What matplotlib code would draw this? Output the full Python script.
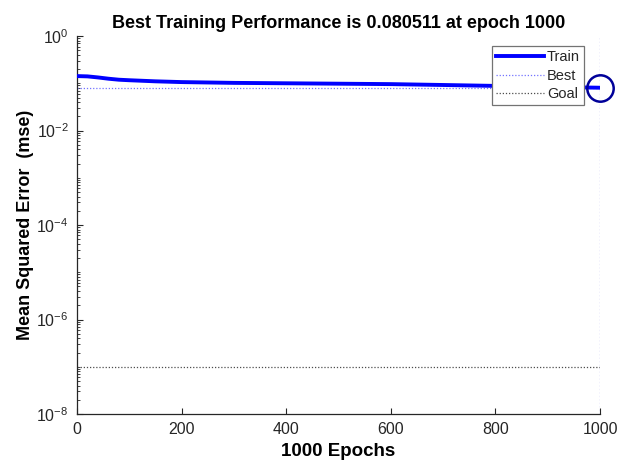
import matplotlib.pyplot as plt
import numpy as np
from matplotlib.ticker import LogLocator, FixedLocator, NullFormatter

plt.rcParams["font.family"] = ["Liberation Sans", "DejaVu Sans"]

# training record
epochs = [0, 20, 40, 60, 80, 100, 150, 200, 300, 400, 500, 600, 700, 800, 900, 1000]
train_mse = [0.142, 0.140, 0.133, 0.125, 0.119, 0.116, 0.110, 0.106, 0.102, 0.100,
             0.098, 0.096, 0.092, 0.088, 0.084, 0.080511]
best_epoch = 1000
best_perf = 0.080511
goal = 1e-7

ink = "#262626"

fig = plt.figure(figsize=(6.29, 4.62), dpi=100)
ax = fig.add_axes([0.1224, 0.1039, 0.8316, 0.8181])

ax.plot(epochs, train_mse, color=(0, 0, 1), lw=2.8, label="Train", zorder=3)
ax.axhline(best_perf, color=(0.45, 0.45, 1.0), lw=0.9, ls=(0, (1, 1.5)), label="Best")
ax.axvline(best_epoch, color=(0.72, 0.72, 0.95), lw=1.0, ls=(0, (1, 1.5)))
ax.axhline(goal, color="0.3", lw=0.9, ls=(0, (1, 1.5)), label="Goal")
ax.plot([best_epoch], [best_perf], "o", ms=19, mfc="none", mec=(0, 0, 0.6), mew=1.8,
        clip_on=False, zorder=4)

ax.set_yscale("log")
ax.set_xlim(0, 1000)
ax.set_ylim(1e-8, 1e0)
ax.set_xticks(np.arange(0, 1001, 200))
ax.yaxis.set_major_locator(FixedLocator([1e-8, 1e-6, 1e-4, 1e-2, 1e0]))
ax.yaxis.set_minor_locator(LogLocator(base=10, subs=np.arange(1, 10), numticks=20))
ax.yaxis.set_minor_formatter(NullFormatter())

for side in ("top", "right"):
    ax.spines[side].set_visible(False)
for side in ("left", "bottom"):
    ax.spines[side].set_color(ink)
    ax.spines[side].set_linewidth(0.9)

ax.tick_params(axis="both", which="major", direction="in", length=4, width=0.8,
               color=ink, labelcolor=ink, labelsize=11.5, pad=6)
ax.tick_params(axis="y", which="minor", direction="in", length=2.2, width=0.6, color=ink)

ax.set_title("Best Training Performance is 0.080511 at epoch 1000",
             fontsize=13, fontweight="bold", pad=6)
ax.set_xlabel("1000 Epochs", fontsize=13.5, fontweight="bold", labelpad=4)
ax.set_ylabel("Mean Squared Error  (mse)", fontsize=13, fontweight="bold", labelpad=2)

leg = ax.legend(loc="upper right", bbox_to_anchor=(0.97, 0.974), fontsize=10.5,
                fancybox=False, edgecolor="0.45", framealpha=1, handlelength=3.3,
                handletextpad=0.2, borderpad=0.3, labelspacing=0.3, borderaxespad=0)
leg.get_frame().set_linewidth(0.9)
for t in leg.get_texts():
    t.set_color(ink)

fig.savefig("out.png", dpi=100)
